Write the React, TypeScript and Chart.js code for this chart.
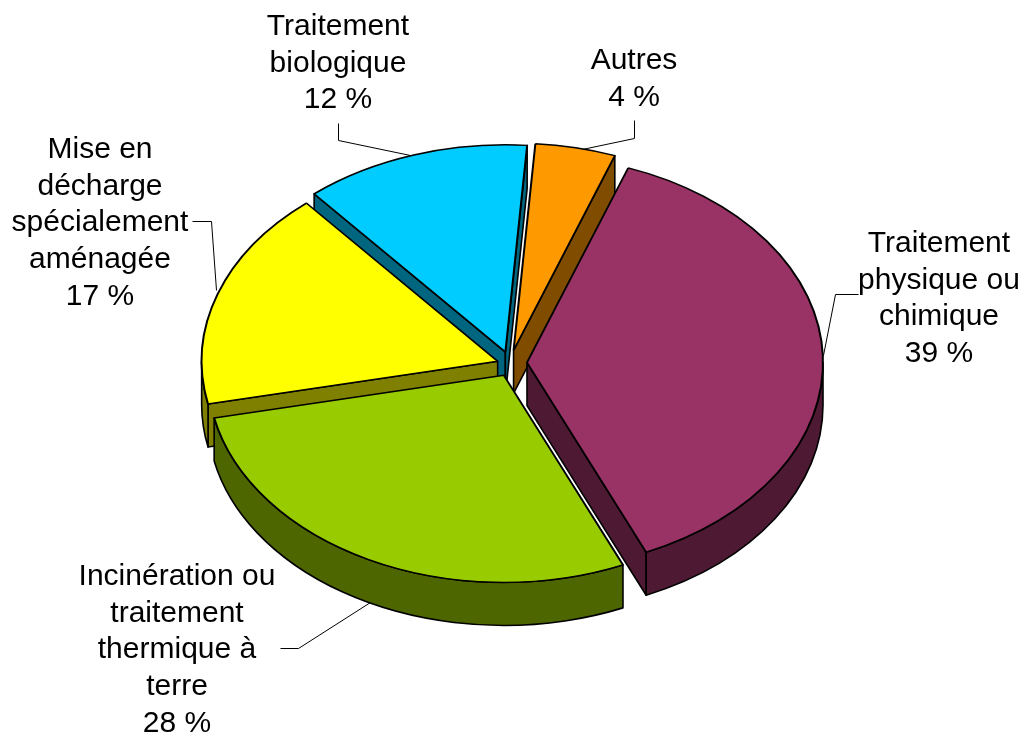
import React, { useEffect, useRef } from "react";
import { Chart, registerables } from "chart.js";

Chart.register(...registerables);

const categories = [
  "Traitement physique ou chimique",
  "Incinération ou traitement thermique à terre",
  "Mise en décharge spécialement aménagée",
  "Traitement biologique",
  "Autres",
];
const shares = [38, 28.4, 17.2, 12.4, 4.4];
const labelLines = [
  ["Traitement", "physique ou", "chimique", "39 %"],
  ["Incinération ou", "traitement", "thermique à", "terre", "28 %"],
  ["Mise en", "décharge", "spécialement", "aménagée", "17 %"],
  ["Traitement", "biologique", "12 %"],
  ["Autres", "4 %"],
];

const topColors = ["#993366", "#99cc00", "#ffff00", "#00ccff", "#ff9900"];
const wallColors = ["#4d1933", "#4d6600", "#808000", "#006680", "#804d00"];

const CX = 509;
const CY = 362;
const RADIUS = 296;
const TILT = 0.7;
const DEPTH = 43;
const explode = [18, 18, 12, 15, 17];
const nudgeX = [0, 3, 0, 1, 1];
const nudgeY = [1, 2, 2, 0, 0];
const drawOrder = [3, 4, 2, 0, 1];
const labelPlace = [
  { x: 939, y: 252 },
  { x: 177, y: 585 },
  { x: 100, y: 158 },
  { x: 338, y: 35 },
  { x: 634, y: 69 },
];
const leaders = [
  [[858, 294], [835, 294], [823, 355]],
  [[280, 648], [298, 648], [370, 602]],
  [[192, 221], [211, 221], [216, 290]],
  [[338, 123], [338, 140], [410, 155]],
  [[634, 120], [634, 138], [577, 150]],
];

const pie3d = {
  id: "pie3d",
  beforeDatasetsDraw(chart: any) {
    const ctx: CanvasRenderingContext2D = chart.ctx;
    const arcs = chart.getDatasetMeta(0).data;

    ctx.save();
    ctx.strokeStyle = "#000";
    ctx.lineWidth = 1;
    leaders.forEach((pts) => {
      ctx.beginPath();
      pts.forEach(([x, y], k) => (k ? ctx.lineTo(x + 0.5, y + 0.5) : ctx.moveTo(x + 0.5, y + 0.5)));
      ctx.stroke();
    });
    ctx.restore();

    drawOrder.forEach((i) => {
      const arc = arcs[i];
      const { startAngle, endAngle, outerRadius } = arc;
      const mid = (startAngle + endAngle) / 2;
      const sx = CX + nudgeX[i] + Math.cos(mid) * explode[i];
      const sy = CY + nudgeY[i] + Math.sin(mid) * explode[i] * TILT;
      const rx = outerRadius;
      const ry = outerRadius * TILT;
      const px = (a: number) => sx + Math.cos(a) * rx;
      const py = (a: number) => sy + Math.sin(a) * ry;

      ctx.save();
      ctx.fillStyle = wallColors[i];
      ctx.strokeStyle = "#000";
      ctx.lineWidth = 1.6;
      ctx.lineJoin = "round";

      const faces: [number, number][] = [
        [startAngle, -Math.PI / 2],
        [endAngle, Math.PI / 2],
      ];
      faces.forEach(([a, turn]) => {
        if (Math.sin(a + turn) <= 0) return;
        ctx.beginPath();
        ctx.moveTo(sx, sy);
        ctx.lineTo(px(a), py(a));
        ctx.lineTo(px(a), py(a) + DEPTH);
        ctx.lineTo(sx, sy + DEPTH);
        ctx.closePath();
        ctx.fill();
        ctx.stroke();
      });

      for (let k = -1; k <= 2; k++) {
        const a1 = Math.max(startAngle, 2 * Math.PI * k);
        const a2 = Math.min(endAngle, Math.PI + 2 * Math.PI * k);
        if (a2 <= a1) continue;
        ctx.beginPath();
        ctx.ellipse(sx, sy, rx, ry, 0, a1, a2);
        ctx.ellipse(sx, sy + DEPTH, rx, ry, 0, a2, a1, true);
        ctx.closePath();
        ctx.fill();
        ctx.stroke();
      }
      ctx.restore();

      ctx.save();
      ctx.translate(sx, sy);
      ctx.scale(1, TILT);
      ctx.translate(-arc.x, -arc.y);
      arc.draw(ctx);
      ctx.restore();
    });

    ctx.save();
    ctx.fillStyle = "#000";
    ctx.font = '30px "Liberation Sans", Arial, sans-serif';
    ctx.textAlign = "center";
    ctx.textBaseline = "alphabetic";
    labelLines.forEach((lines, i) => {
      lines.forEach((line, k) => {
        ctx.fillText(line, labelPlace[i].x, labelPlace[i].y + k * 36.7);
      });
    });
    ctx.restore();
    return false;
  },
};

export default function App() {
  const ref = useRef<HTMLCanvasElement | null>(null);
  useEffect(() => {
    document.body.style.margin = "0";
    document.body.style.background = "#fff";
    const chart = new Chart(ref.current as HTMLCanvasElement, {
      type: "pie",
      data: {
        labels: categories,
        datasets: [
          {
            data: shares,
            backgroundColor: topColors,
            borderColor: "#000",
            borderWidth: 2,
          },
        ],
      },
      options: {
        responsive: false,
        animation: false,
        rotation: 20,
        radius: RADIUS,
        layout: { padding: 0 },
        plugins: { legend: { display: false }, tooltip: { enabled: false } },
      },
      plugins: [pie3d],
    } as any);
    return () => chart.destroy();
  }, []);
  return <canvas ref={ref} width={1025} height={736} style={{ display: "block" }} />;
}
